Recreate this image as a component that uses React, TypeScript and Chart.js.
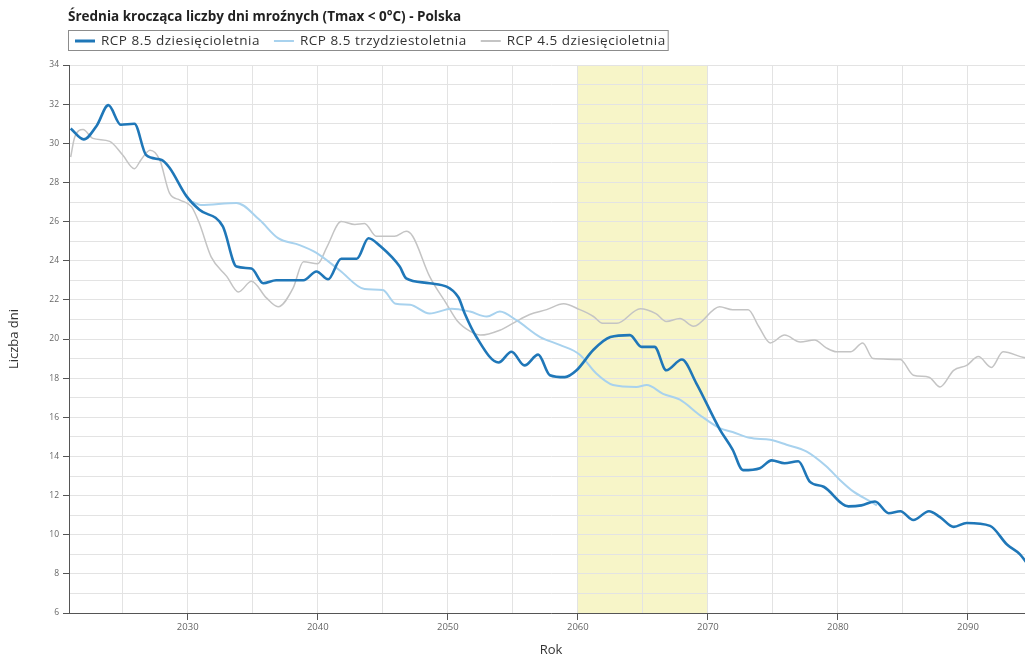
import React, { useEffect, useRef } from "react";
import { Chart, registerables } from "chart.js";

Chart.register(...registerables);

const FAMILY = "'Open Sans', 'Noto Sans', 'DejaVu Sans', sans-serif";

const chartTitle = "Średnia krocząca liczby dni mroźnych (Tmax < 0°C) - Polska";
const seriesLabels = ["RCP 8.5 dziesięcioletnia", "RCP 8.5 trzydziestoletnia", "RCP 4.5 dziesięcioletnia"];
const seriesColors = ["#1f77b8", "#a8d2ee", "#c4c4c4"];
const seriesWidths = [2.6, 2, 1.5];

const xAxisTitle = "Rok";
const yAxisTitle = "Liczba dni";
const xMin = 2020.87;
const xMax = 2095.0;
const xGridYears = [2025, 2030, 2035, 2040, 2045, 2050, 2055, 2060, 2065, 2070, 2075, 2080, 2085, 2090];
const xLabelYears = [2030, 2040, 2050, 2060, 2070, 2080, 2090];
const yMin = 6;
const yMax = 34;
const yGridValues = [6, 7, 8, 9, 10, 11, 12, 13, 14, 15, 16, 17, 18, 19, 20, 21, 22, 23, 24, 25, 26, 27, 28, 29, 30, 31, 32, 33, 34];
const yLabelValues = [6, 8, 10, 12, 14, 16, 18, 20, 22, 24, 26, 28, 30, 32, 34];
const highlightStart = 2060;
const highlightEnd = 2070;

// RCP 8.5 dziesięcioletnia
const rcp85DecYears = [
  2021.0, 2022.0, 2023.0, 2023.9, 2024.85, 2025.9, 2026.8, 2028.0, 2028.6, 2029.9,
  2030.9, 2032.7, 2033.75, 2034.9, 2035.8, 2036.8, 2038.9, 2039.9, 2040.8, 2041.8,
  2043.0, 2043.9, 2044.8, 2046.3, 2046.8, 2048.6, 2050.8, 2051.3, 2052.2, 2053.9,
  2054.9, 2055.9, 2056.95, 2057.85, 2059.0, 2059.9, 2061.2, 2062.5, 2064.0, 2064.9,
  2065.9, 2066.8, 2068.0, 2069.1, 2070.9, 2071.9, 2072.7, 2074.0, 2074.9, 2075.9,
  2076.95, 2077.85, 2078.9, 2080.8, 2081.8, 2082.85, 2083.9, 2084.8, 2085.8, 2087.0,
  2087.85, 2088.9, 2089.9, 2091.7, 2093.0, 2094.0, 2095.0,
];
const rcp85DecValues = [
  30.75, 30.2, 30.9, 31.95, 30.95, 31.0, 29.4, 29.15, 28.75, 27.3,
  26.6, 25.75, 23.7, 23.6, 22.85, 23.0, 23.0, 23.45, 23.05, 24.1,
  24.1, 25.15, 24.75, 23.7, 23.1, 22.85, 22.15, 21.3, 20.1, 18.8,
  19.35, 18.65, 19.2, 18.15, 18.05, 18.4, 19.45, 20.1, 20.2, 19.6,
  19.6, 18.4, 18.95, 17.75, 15.4, 14.35, 13.3, 13.4, 13.8, 13.65,
  13.75, 12.7, 12.45, 11.45, 11.5, 11.7, 11.1, 11.2, 10.75, 11.2,
  10.9, 10.4, 10.6, 10.45, 9.5, 9.0, 8.1,
];

// RCP 8.5 trzydziestoletnia
const rcp85TriYears = [
  2030.4, 2031.0, 2033.75, 2035.5, 2036.95, 2038.6, 2039.9, 2041.7, 2043.6, 2045.0,
  2046.0, 2047.1, 2048.6, 2050.3, 2051.7, 2053.0, 2054.0, 2055.3, 2057.1, 2058.6,
  2060.15, 2061.4, 2062.7, 2064.5, 2065.3, 2066.55, 2067.85, 2069.4, 2070.9, 2071.9,
  2073.2, 2074.8, 2076.05, 2077.6, 2079.1, 2080.15, 2081.2, 2082.5, 2083.0,
];
const rcp85TriValues = [
  27.0, 26.85, 26.95, 26.1, 25.15, 24.8, 24.4, 23.5, 22.55, 22.5,
  21.8, 21.75, 21.3, 21.55, 21.4, 21.15, 21.4, 20.95, 20.1, 19.7,
  19.2, 18.25, 17.65, 17.55, 17.65, 17.2, 16.9, 16.1, 15.45, 15.25,
  14.95, 14.85, 14.6, 14.25, 13.5, 12.8, 12.2, 11.7, 11.5,
];

// RCP 4.5 dziesięcioletnia
const rcp45DecYears = [
  2021.0, 2021.3, 2021.95, 2022.7, 2024.0, 2025.0, 2025.9, 2026.4, 2027.1, 2027.85,
  2028.6, 2029.4, 2030.3, 2030.9, 2031.8, 2033.0, 2033.9, 2034.9, 2036.05, 2036.95,
  2038.1, 2038.9, 2040.0, 2040.7, 2041.8, 2042.85, 2043.6, 2044.5, 2045.9, 2046.8,
  2047.3, 2048.6, 2049.9, 2050.7, 2051.7, 2052.5, 2054.0, 2055.0, 2056.3, 2057.6,
  2058.9, 2060.15, 2061.2, 2061.9, 2063.0, 2064.8, 2066.0, 2066.8, 2067.85, 2068.9,
  2070.9, 2071.9, 2073.1, 2073.9, 2074.8, 2075.9, 2077.1, 2078.2, 2079.1, 2079.9,
  2081.0, 2081.9, 2082.7, 2084.8, 2085.8, 2087.0, 2087.85, 2088.9, 2089.9, 2090.8,
  2091.8, 2092.7, 2094.3, 2095.0,
];
const rcp45DecValues = [
  29.3, 30.3, 30.7, 30.25, 30.1, 29.4, 28.7, 29.15, 29.65, 29.15,
  27.45, 27.1, 26.75, 25.9, 24.2, 23.2, 22.4, 22.95, 22.1, 21.65,
  22.6, 23.95, 23.85, 24.7, 26.0, 25.85, 25.9, 25.25, 25.25, 25.5,
  25.25, 23.2, 21.8, 20.95, 20.4, 20.2, 20.45, 20.8, 21.25, 21.5,
  21.8, 21.5, 21.15, 20.8, 20.8, 21.55, 21.3, 20.9, 21.05, 20.65,
  21.65, 21.5, 21.5, 20.65, 19.8, 20.2, 19.85, 19.95, 19.55, 19.35,
  19.35, 19.8, 19.0, 18.95, 18.15, 18.05, 17.55, 18.4, 18.65, 19.1,
  18.55, 19.35, 19.05, 19.0,
];

const toPoints = (xs: number[], ys: number[]) => xs.map((x, i) => ({ x, y: ys[i] }));

const highlightPlugin = {
  id: "highlightBand",
  beforeDraw(chart: any) {
    const { ctx, chartArea, scales } = chart;
    const x0 = scales.x.getPixelForValue(highlightStart);
    const x1 = scales.x.getPixelForValue(highlightEnd);
    ctx.save();
    ctx.fillStyle = "#f7f5c8";
    ctx.fillRect(x0, chartArea.top, x1 - x0, chartArea.bottom - chartArea.top);
    ctx.restore();
  },
};

const headerPlugin = {
  id: "headerLegend",
  afterDraw(chart: any) {
    const ctx = chart.ctx;
    ctx.save();
    ctx.textBaseline = "middle";
    ctx.textAlign = "left";
    ctx.fillStyle = "#222";
    ctx.font = `bold 13.5px ${FAMILY}`;
    ctx.fillText(chartTitle, 68, 17);

    ctx.font = `13.5px ${FAMILY}`;
    try {
      (ctx as any).letterSpacing = "0.5px";
    } catch (e) {}
    const ly = 41;
    let x = 75;
    seriesLabels.forEach((label, i) => {
      ctx.strokeStyle = seriesColors[i];
      ctx.lineWidth = i === 0 ? 3 : 2;
      ctx.beginPath();
      ctx.moveTo(x, ly);
      ctx.lineTo(x + 20, ly);
      ctx.stroke();
      x += 26;
      ctx.fillStyle = "#333";
      ctx.fillText(label, x, ly);
      x += ctx.measureText(label).width + 14;
    });
    ctx.strokeStyle = "#8c8c8c";
    ctx.lineWidth = 1;
    ctx.strokeRect(68.5, 30.5, x - 12 - 68, 20);
    ctx.restore();
  },
};

export default function App() {
  const canvasRef = useRef<HTMLCanvasElement | null>(null);

  useEffect(() => {
    if (!canvasRef.current) return;
    const chart = new Chart(canvasRef.current, {
      type: "line",
      data: {
        datasets: [
          {
            label: seriesLabels[0],
            data: toPoints(rcp85DecYears, rcp85DecValues),
            borderColor: seriesColors[0],
            borderWidth: seriesWidths[0],
            pointRadius: 0,
            cubicInterpolationMode: "monotone",
            fill: false,
          },
          {
            label: seriesLabels[1],
            data: toPoints(rcp85TriYears, rcp85TriValues),
            borderColor: seriesColors[1],
            borderWidth: seriesWidths[1],
            pointRadius: 0,
            cubicInterpolationMode: "monotone",
            fill: false,
          },
          {
            label: seriesLabels[2],
            data: toPoints(rcp45DecYears, rcp45DecValues),
            borderColor: seriesColors[2],
            borderWidth: seriesWidths[2],
            pointRadius: 0,
            cubicInterpolationMode: "monotone",
            fill: false,
          },
        ],
      },
      options: {
        responsive: false,
        animation: false,
        parsing: false as any,
        layout: { padding: { top: 65, left: 0, right: 0, bottom: 0 } },
        plugins: {
          legend: { display: false },
          title: { display: false },
          tooltip: { enabled: false },
        },
        scales: {
          x: {
            type: "linear",
            min: xMin,
            max: xMax,
            afterBuildTicks: (s: any) => {
              s.ticks = xGridYears.map((v) => ({ value: v }));
            },
            afterFit: (s: any) => {
              s.height = 45;
            },
            ticks: {
              autoSkip: false,
              maxRotation: 0,
              padding: 2,
              color: "#666",
              font: { size: 9.5, family: FAMILY },
              callback: (v: any) => (xLabelYears.includes(Number(v)) ? String(v) : ""),
            },
            grid: {
              color: "#e3e3e3",
              tickLength: 7,
              tickColor: (ctx: any) =>
                ctx.tick && xLabelYears.includes(ctx.tick.value) ? "#555" : "rgba(0,0,0,0)",
            },
            border: { color: "#555", width: 1 },
            title: {
              display: true,
              text: xAxisTitle,
              color: "#333",
              font: { size: 13, family: FAMILY },
              padding: { top: 4, bottom: 0 },
            },
          },
          y: {
            type: "linear",
            min: yMin,
            max: yMax,
            afterBuildTicks: (s: any) => {
              s.ticks = yGridValues.map((v) => ({ value: v }));
            },
            afterFit: (s: any) => {
              s.width = 69;
            },
            ticks: {
              autoSkip: false,
              padding: 4,
              color: "#666",
              font: { size: 8.5, family: FAMILY },
              callback: (v: any) => (yLabelValues.includes(Number(v)) ? String(v) : ""),
            },
            grid: {
              color: "#e3e3e3",
              tickLength: 6,
              tickColor: (ctx: any) =>
                ctx.tick && yLabelValues.includes(ctx.tick.value) ? "#555" : "rgba(0,0,0,0)",
            },
            border: { color: "#555", width: 1 },
            title: {
              display: true,
              text: yAxisTitle,
              color: "#333",
              font: { size: 13, family: FAMILY },
              padding: { top: 6, bottom: 0 },
            },
          },
        },
      },
      plugins: [highlightPlugin, headerPlugin],
    } as any);
    return () => chart.destroy();
  }, []);

  return (
    <div
      style={{
        position: "fixed",
        left: 0,
        top: 0,
        width: 1025,
        height: 658,
        overflow: "hidden",
        background: "#fff",
      }}
    >
      <canvas ref={canvasRef} width={1033} height={658} style={{ display: "block" }} />
    </div>
  );
}
